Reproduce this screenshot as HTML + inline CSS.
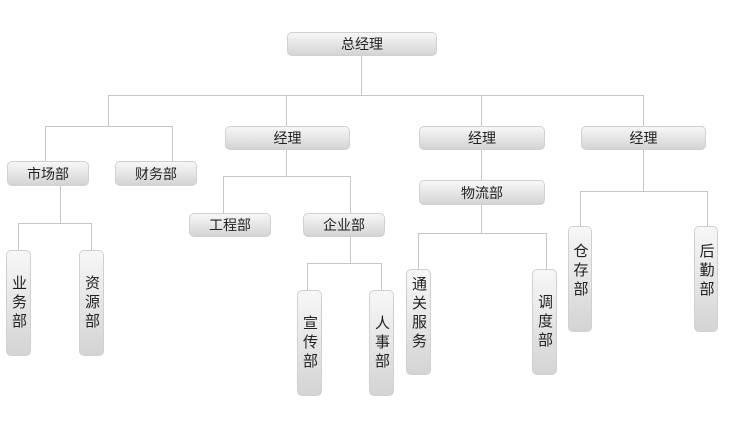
<!DOCTYPE html>
<html><head><meta charset="utf-8"><style>
body{margin:0;width:729px;height:426px;background:#fff;position:relative;overflow:hidden;font-family:"Liberation Sans","Noto Sans CJK SC",sans-serif;}
.b{position:absolute;box-sizing:border-box;border:1px solid #d0d0d0;border-radius:5px;background:linear-gradient(#f7f7f7,#d4d4d4);color:#222;font-size:14px;display:flex;align-items:center;justify-content:center;}
.v{writing-mode:vertical-rl;text-orientation:upright;font-size:15px;letter-spacing:4px;justify-content:center;}
svg{position:absolute;left:0;top:0}
</style></head><body>
<svg width="729" height="426"><g stroke="#c6c6c6" stroke-width="1" fill="none">
<path d="M361.5 55V95.5M108.5 95.5H643.5M108.5 95V126.5M286.5 95V126M481.5 95V126M643.5 95V126"/>
<path d="M45.5 126.5H172.5M45.5 126V161M172.5 126V161"/>
<path d="M60.5 185V223.5M18.5 223.5H91.5M18.5 223V250M91.5 223V250"/>
<path d="M286.5 149V176.5M223.5 176.5H350.5M223.5 176V213M350.5 176V213"/>
<path d="M350.5 236V263.5M307.5 263.5H381.5M307.5 263V290M381.5 263V290"/>
<path d="M481.5 149V180M481.5 204V233.5M418.5 233.5H546.5M418.5 233V269M546.5 233V269"/>
<path d="M643.5 149V191.5M580.5 191.5H707.5M580.5 191V226M707.5 191V226"/>
</g></svg>
<div class="b" style="left:287px;top:32px;width:150px;height:24px">总经理</div>
<div class="b" style="left:225px;top:126px;width:125px;height:24px">经理</div>
<div class="b" style="left:419px;top:126px;width:126px;height:24px">经理</div>
<div class="b" style="left:581px;top:126px;width:125px;height:24px">经理</div>
<div class="b" style="left:7px;top:161px;width:82px;height:25px">市场部</div>
<div class="b" style="left:115px;top:161px;width:82px;height:25px">财务部</div>
<div class="b" style="left:189px;top:213px;width:82px;height:24px">工程部</div>
<div class="b" style="left:303px;top:213px;width:82px;height:24px">企业部</div>
<div class="b" style="left:419px;top:180px;width:126px;height:25px">物流部</div>
<div class="b v" style="left:6px;top:250px;width:25px;height:106px">业务部</div>
<div class="b v" style="left:79px;top:250px;width:25px;height:106px">资源部</div>
<div class="b v" style="left:297px;top:290px;width:25px;height:106px">宣传部</div>
<div class="b v" style="left:369px;top:290px;width:25px;height:106px">人事部</div>
<div class="b v" style="left:406px;top:269px;width:25px;height:106px;justify-content:flex-start;padding-top:6px">通关服务</div>
<div class="b v" style="left:532px;top:269px;width:25px;height:106px">调度部</div>
<div class="b v" style="left:568px;top:226px;width:24px;height:106px;justify-content:flex-start;padding-top:16px">仓存部</div>
<div class="b v" style="left:694px;top:226px;width:24px;height:106px;justify-content:flex-start;padding-top:16px">后勤部</div>
</body></html>
